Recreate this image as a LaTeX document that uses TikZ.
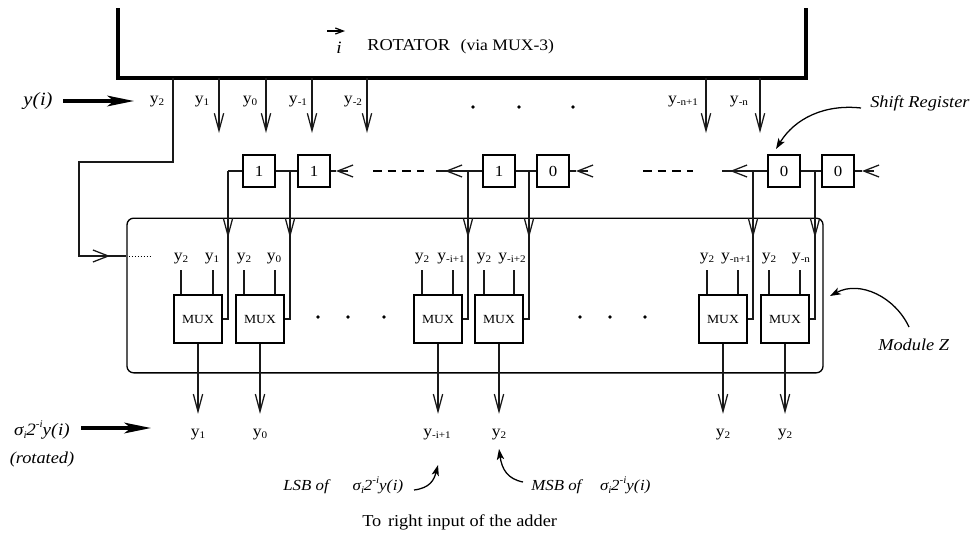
\documentclass[tikz,border=0pt]{standalone}
\usepackage{fontspec}
\setmainfont[FakeStretch=1.1]{Liberation Serif}
\usetikzlibrary{arrows.meta}
\newcommand\lowtxt[1]{\raisebox{-0.4ex}{\fontsize{7.6}{7.6}\selectfont #1}}
\newcommand\hightxt[1]{\raisebox{1.0ex}{\fontsize{7.6}{7.6}\selectfont #1}}
\newcommand\ysb[1]{y\lowtxt{#1}}
\newcommand\sigmaterm[1]{σ\lowtxt{\itshape i}\kern-0.2pt 2\hightxt{\itshape -i}y(\kern0.5pt i)}
\tikzset{
  x=0.75pt,y=-0.75pt,
  thin line/.style={line width=0.95pt,black!90},
  reg box/.style={draw,line width=1.2pt,minimum width=24pt,minimum height=24pt,inner sep=0pt,font=\fontsize{11.5}{11.5}\selectfont},
  mux box/.style={draw,line width=1.3pt,minimum width=36pt,minimum height=36pt,inner sep=0pt,font=\fontsize{9.3}{9.3}\selectfont},
  module/.style={draw,line width=1pt,rounded corners=5pt,minimum width=522pt,minimum height=116pt,inner sep=0pt},
  lbl/.style={inner sep=0pt,anchor=base,font=\fontsize{12}{12}\selectfont},
  note/.style={inner sep=0pt,font=\fontsize{12.5}{12.5}\selectfont\itshape},
  vtip/.style={thin line,-{Straight Barb[length=13pt,width=7pt,line width=0.95pt]}},
  htip/.style={thin line,-{Straight Barb[length=11.5pt,width=9pt,line width=0.95pt]}},
  bigarrow/.style={line width=2.6pt,-{Stealth[length=20pt,width=8pt,inset=5pt]}},
  curved/.style={line width=0.95pt,-{Stealth[length=8pt,width=5.5pt,inset=2pt]}},
  gap dash/.style={line width=1.1pt,dash pattern=on 6.5pt off 4.5pt},
  dot/.style={circle,fill=black,inner sep=0pt,minimum size=2.8pt},
}
\begin{document}
\begin{tikzpicture}
\useasboundingbox (0,0) rectangle (973,533);
% rotator
\coordinate (rotTL) at (118,8);
\coordinate (rotBL) at (118,78);
\coordinate (rotBR) at (806,78);
\coordinate (rotTR) at (806,8);
\draw[line width=2.3pt,miter limit=10] (rotTL) -- (rotBL) -- (rotBR) -- (rotTR);
\node[inner sep=0pt,font=\fontsize{13}{13}\selectfont\itshape] (iarrowtext) at (339,48) {i};
\coordinate (iS) at (327,31); \coordinate (iE) at (345,31);
\draw[line width=0.9pt,-{Straight Barb[length=6pt,width=4.5pt]}] (iS) -- (iE);
\node[inner sep=0pt,anchor=west] (rottext) at (367,47) {\fontsize{12.5}{12.5}\selectfont ROTATOR\hspace{8pt}\fontsize{12}{12}\selectfont (via MUX-3)};
% module
\node[module] (modz) at (475,295.5) {};
% registers
\node[reg box] (r1) at (259,171) {1};
\node[reg box] (r2) at (314,171) {1};
\node[reg box] (r3) at (499,171) {1};
\node[reg box] (r4) at (553,171) {0};
\node[reg box] (r5) at (784,171) {0};
\node[reg box] (r6) at (838,171) {0};
% muxes
\node[mux box] (m1) at (198,319) {MUX};
\node[mux box] (m2) at (260,319) {MUX};
\node[mux box] (m3) at (438,319) {MUX};
\node[mux box] (m4) at (499,319) {MUX};
\node[mux box] (m5) at (723,319) {MUX};
\node[mux box] (m6) at (785,319) {MUX};
% rotator outputs
\foreach \n/\px in {a/219,b/266,c/312,d/367,e/706,f/760}{
  \coordinate (s\n) at (\px,78);
  \coordinate (t\n) at (\px,133);
  \draw[vtip] (s\n) -- (t\n);
}
% y2 feedback
\coordinate (fb0) at (173,78); \coordinate (fb1) at (173,162); \coordinate (fb2) at (79,162); \coordinate (fb3) at (79,256); \coordinate (fbtip) at (110,256);
\draw[thin line] (fb0) -- (fb1) -- (fb2) -- (fb3) -- (fb3 -| modz.west);
\draw[htip] (fb3) -- (fbtip);
\coordinate (dtA) at (129,256); \coordinate (dtB) at (150,256);
\draw[line width=0.5pt,dash pattern=on 1pt off 1.2pt] (dtA) -- (dtB);
% register links
\draw[thin line] (r1.east) -- (r2.west);
\draw[thin line] (r3.east) -- (r4.west);
\draw[thin line] (r5.east) -- (r6.west);
\foreach \b/\tipx/\endx in {r2/336/348, r4/576/588, r6/862/874}{
  \coordinate (x\b) at (\tipx,171); \coordinate (y\b) at (\endx,171);
  \draw[thin line] (\b.east) -- (x\b);
  \draw[htip] (y\b) -- (x\b);
}
\coordinate (gA) at (373,171); \coordinate (gB) at (424,171);
\draw[gap dash] (gA) -- (gB);
\coordinate (gC) at (643,171); \coordinate (gD) at (693,171);
\draw[gap dash] (gC) -- (gD);
\coordinate (l3) at (436,171); \coordinate (l3t) at (445,171);
\draw[thin line] (r3.west) -- (l3);
\draw[htip] (r3.west) -- (l3t);
\coordinate (l5) at (722,171); \coordinate (l5t) at (730,171);
\draw[thin line] (r5.west) -- (l5);
\draw[htip] (r5.west) -- (l5t);
% taps
\foreach \r/\m/\px in {r1/m1/228, r2/m2/290, r3/m3/468, r4/m4/529, r5/m5/753, r6/m6/815}{
  \coordinate (tap\m) at (\px,171);
  \coordinate (tip\m) at (\px,238);
  \draw[thin line] (tap\m) -- (tap\m |- \m.east) -- (\m.east);
  \draw[vtip] (tap\m) -- (tip\m);
}
\draw[thin line] (r1.west) -- (tapm1);
% mux inputs and outputs
\foreach \m/\pa/\pb in {m1/181/213,m2/244/275,m3/422/453,m4/484/514,m5/707/738,m6/769/800}{
  \coordinate (ia\m) at (\pa,270); \coordinate (ib\m) at (\pb,270);
  \draw[thin line] (ia\m) -- (ia\m |- \m.north);
  \draw[thin line] (ib\m) -- (ib\m |- \m.north);
}
\foreach \m in {m1,m2,m3,m4,m5,m6}{
  \coordinate (low\m) at ([yshift=-52.5pt]\m.south);
  \draw[vtip] (\m.south) -- (low\m);
}
% top labels
\node[lbl] (ly2) at (157,103) {\ysb{2}};
\node[lbl] (ly1) at (202,103) {\ysb{1}};
\node[lbl] (ly0) at (250,103) {\ysb{0}};
\node[lbl] (lym1) at (298,103) {\ysb{-1}};
\node[lbl] (lym2) at (353,103) {\ysb{-2}};
\node[lbl] (lyn1) at (683,103) {\ysb{-n+1}};
\node[lbl] (lyn) at (739,103) {\ysb{-n}};
% module labels
\node[lbl] (a1) at (181,260) {\ysb{2}};
\node[lbl] (a2) at (212,260) {\ysb{1}};
\node[lbl] (a3) at (244,260) {\ysb{2}};
\node[lbl] (a4) at (274,260) {\ysb{0}};
\node[lbl] (a5) at (422,260) {\ysb{2}};
\node[lbl] (a6) at (451,260) {\ysb{-i+1}};
\node[lbl] (a7) at (484,260) {\ysb{2}};
\node[lbl] (a8) at (512,260) {\ysb{-i+2}};
\node[lbl] (a9) at (707,260) {\ysb{2}};
\node[lbl] (a10) at (736,260) {\ysb{-n+1}};
\node[lbl] (a11) at (769,260) {\ysb{2}};
\node[lbl] (a12) at (801,260) {\ysb{-n}};
% bottom labels
\node[lbl] (b1) at (198,436) {\ysb{1}};
\node[lbl] (b2) at (260,436) {\ysb{0}};
\node[lbl] (b3) at (437,436) {\ysb{-i+1}};
\node[lbl] (b4) at (499,436) {\ysb{2}};
\node[lbl] (b5) at (723,436) {\ysb{2}};
\node[lbl] (b6) at (785,436) {\ysb{2}};
% dots
\foreach \i/\px/\py in {1/473/107,2/519/107,3/573/107,4/318/317,5/348/317,6/384/317,7/580/317,8/610/317,9/645/317}{
  \node[dot] (dot\i) at (\px,\py) {};
}
% input / output big arrows
\node[inner sep=0pt,font=\fontsize{14}{14}\selectfont\itshape] (yi) at (38,101) {y(\kern0.5pt i)};
\coordinate (yiA) at (63,101); \coordinate (yiB) at (134,101);
\draw[bigarrow] (yiA) -- (yiB);
\node[inner sep=0pt,font=\fontsize{13}{13}\selectfont\itshape] (sig) at (42,430) {\sigmaterm{}};
\coordinate (sgA) at (81,428); \coordinate (sgB) at (151,428);
\draw[bigarrow] (sgA) -- (sgB);
\node[note] (rot) at (42,459) {(rotated)};
% notes
\node[note,anchor=west] (sr) at (870,103) {Shift Register};
\node[note,anchor=west] (mz) at (878,345) {Module Z};
\node[note,anchor=west,font=\fontsize{11.5}{11.5}\selectfont\itshape] (lsb) at (283,485) {LSB of\hspace{18pt}\sigmaterm{}};
\node[note,anchor=west,font=\fontsize{11.5}{11.5}\selectfont\itshape] (msb) at (531,485) {MSB of\hspace{14pt}\sigmaterm{}};
\node[inner sep=0pt,anchor=west,font=\fontsize{12.5}{12.5}\selectfont] (adder) at (362,522) {To\hspace{5pt}right input of the adder};
% curved arrows
\coordinate (srA) at (861,108); \coordinate (srB) at (776,149);
\draw[curved] (srA) .. controls (825,104) and (795,118) .. (srB);
\coordinate (mzA) at (909,327); \coordinate (mzB) at (830,296);
\draw[curved] (mzA) .. controls (895,297) and (860,280) .. (mzB);
\coordinate (lsA) at (414,490); \coordinate (lsB) at (438,465);
\draw[curved] (lsA) .. controls (430,488) and (434,480) .. (lsB);
\coordinate (msA) at (523,482); \coordinate (msB) at (499,449);
\draw[curved] (msA) .. controls (508,479) and (502,470) .. (msB);
\end{tikzpicture}
\end{document}
